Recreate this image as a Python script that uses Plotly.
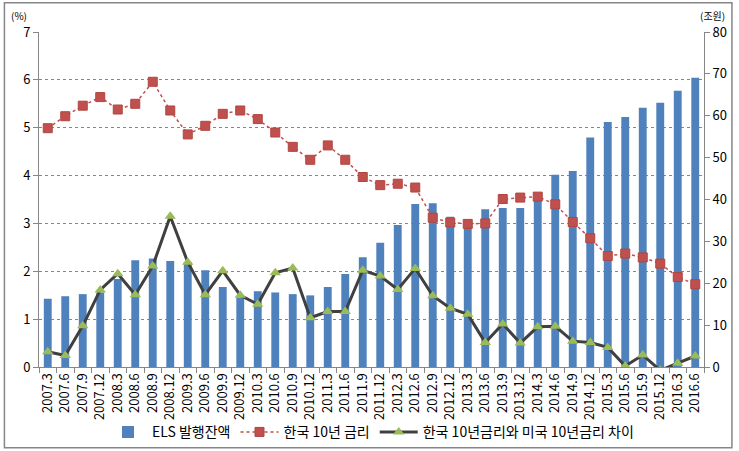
import plotly.graph_objects as go

categories = [
    "2007.3", "2007.6", "2007.9", "2007.12",
    "2008.3", "2008.6", "2008.9", "2008.12",
    "2009.3", "2009.6", "2009.9", "2009.12",
    "2010.3", "2010.6", "2010.9", "2010.12",
    "2011.3", "2011.6", "2011.9", "2011.12",
    "2012.3", "2012.6", "2012.9", "2012.12",
    "2013.3", "2013.6", "2013.9", "2013.12",
    "2014.3", "2014.6", "2014.9", "2014.12",
    "2015.3", "2015.6", "2015.9", "2015.12",
    "2016.3", "2016.6",
]

# ELS issuance balance (trillion won, right axis)
els_balance = [
    16.3, 16.9, 17.4, 17.8,
    21.0, 25.5, 25.9, 25.3,
    25.0, 23.1, 19.1, 16.6,
    18.1, 17.8, 17.4, 17.1,
    19.1, 22.2, 26.2, 29.7,
    33.9, 38.9, 39.1, 35.9,
    34.5, 37.7, 38.0, 38.0,
    40.3, 45.9, 46.8, 54.8,
    58.5, 59.7, 61.9, 63.1,
    66.0, 69.1,
]

# Korea 10-year rate (%, left axis)
kr_10y = [
    4.99, 5.24, 5.46, 5.64,
    5.38, 5.50, 5.96, 5.36,
    4.86, 5.04, 5.29, 5.36,
    5.18, 4.90, 4.60, 4.33,
    4.63, 4.33, 3.97, 3.80,
    3.83, 3.75, 3.12, 3.02,
    2.99, 3.00, 3.51, 3.54,
    3.56, 3.40, 3.03, 2.69,
    2.32, 2.37, 2.29, 2.16,
    1.88, 1.73,
]

# Korea 10y minus US 10y spread (%, left axis)
spread = [
    0.32, 0.24, 0.86, 1.61,
    1.95, 1.51, 2.11, 3.15,
    2.19, 1.51, 2.01, 1.50,
    1.31, 1.97, 2.07, 1.03,
    1.16, 1.16, 2.02, 1.90,
    1.62, 2.06, 1.49, 1.23,
    1.10, 0.51, 0.90, 0.50,
    0.84, 0.85, 0.54, 0.51,
    0.41, 0.02, 0.25, -0.07,
    0.08, 0.23,
]

FONT = "Noto Sans CJK KR"
AXIS_GRAY = "#868686"

fig = go.Figure()

fig.add_trace(go.Bar(
    x=categories, y=els_balance, name="ELS 발행잔액",
    marker=dict(color="#4F81BD", line=dict(width=0)),
    yaxis="y",
))

fig.add_trace(go.Scatter(
    x=categories, y=kr_10y, name="한국 10년 금리",
    mode="lines+markers",
    line=dict(color="#C0504D", dash="dot", width=1.5),
    marker=dict(symbol="square", size=9, color="#C0504D",
                line=dict(color="#B04541", width=1)),
    yaxis="y2",
))

fig.add_trace(go.Scatter(
    x=categories, y=spread, name="한국 10년금리와 미국 10년금리 차이",
    mode="lines+markers",
    line=dict(color="#404040", width=3),
    marker=dict(symbol="triangle-up", size=10, color="#9BBB59",
                line=dict(width=0)),
    yaxis="y2",
))

fig.update_layout(
    width=739, height=451,
    margin=dict(l=39, r=35, t=32, b=84, autoexpand=False),
    paper_bgcolor="white", plot_bgcolor="white",
    font=dict(family=FONT, size=13, color="#000000"),
    bargap=0.55,
    showlegend=True,
    legend=dict(
        orientation="h", x=0.5, xanchor="center",
        y=-0.195, yanchor="middle",
        font=dict(size=14, family=FONT),
        itemwidth=38, tracegroupgap=0,
        bgcolor="rgba(0,0,0,0)",
    ),
    xaxis=dict(
        type="category",
        automargin=False,
        range=[-0.5, len(categories) - 0.5],
        tickangle=-90,
        tickfont=dict(size=13, family=FONT),
        ticks="outside", tickson="boundaries", ticklen=5,
        tickcolor=AXIS_GRAY,
        showline=True, linecolor=AXIS_GRAY, linewidth=1,
        showgrid=False,
    ),
    yaxis=dict(
        side="right",
        automargin=False,
        range=[0, 80], dtick=10,
        tickfont=dict(size=13, family=FONT),
        ticks="outside", ticklen=5, tickcolor=AXIS_GRAY,
        showline=True, linecolor=AXIS_GRAY, linewidth=1,
        showgrid=False, zeroline=False,
    ),
    yaxis2=dict(
        overlaying="y", side="left",
        automargin=False,
        range=[0, 7], dtick=1,
        tickfont=dict(size=13, family=FONT),
        ticks="outside", ticklen=5, tickcolor=AXIS_GRAY,
        showline=True, linecolor=AXIS_GRAY, linewidth=1,
        showgrid=True, gridcolor=AXIS_GRAY, griddash="dot", gridwidth=1,
        zeroline=False,
    ),
    annotations=[
        dict(text="(%)", xref="paper", yref="paper", x=-0.03, y=1.05,
             xanchor="center", yanchor="middle", showarrow=False,
             font=dict(size=10, family=FONT)),
        dict(text="(조원)", xref="paper", yref="paper", x=1.013, y=1.05,
             xanchor="center", yanchor="middle", showarrow=False,
             font=dict(size=10, family=FONT)),
    ],
    shapes=[
        dict(type="rect", xref="paper", yref="paper",
             x0=-0.052, x1=1.042, y0=-0.241, y1=1.087,
             line=dict(color=AXIS_GRAY, width=1.5), fillcolor="rgba(0,0,0,0)",
             layer="above"),
    ],
)

fig.write_html(
    "out.html",
    config={"displayModeBar": False},
    post_script="document.body.style.margin='0';document.body.style.padding='0';",
)
